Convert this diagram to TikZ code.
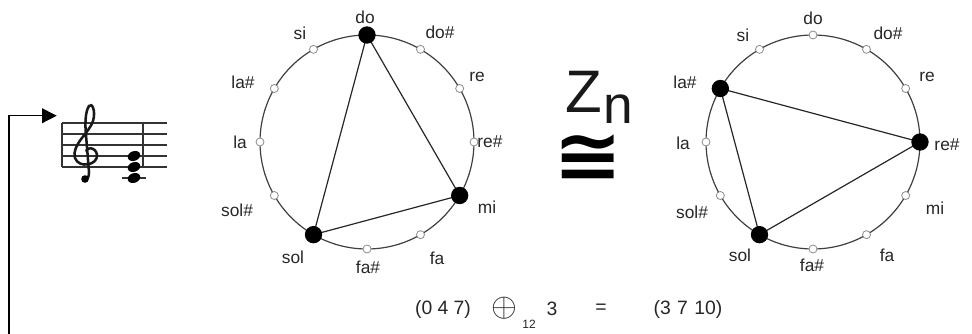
\documentclass[tikz,border=0pt]{standalone}
\usepackage{fontspec}
\usepackage{graphicx}
\setmainfont{Liberation Sans}
\newfontfamily\symfont{DejaVu Sans}
\usetikzlibrary{arrows.meta,calc}
\begin{document}
\begin{tikzpicture}[x=0.75pt,y=-0.75pt,
  lab/.style={font=\fontsize{13}{15}\selectfont, text=black!85, inner sep=0pt},
  pc/.style={circle, draw=black!45, fill=white, line width=0.6pt, minimum size=6pt, inner sep=0pt},
  tone/.style={circle, fill=black, minimum size=13pt, inner sep=0pt},
  ring/.style={circle, draw=black!75, line width=0.9pt, minimum size=160.5pt, inner sep=0pt},
  chord/.style={draw=black!85, line width=0.9pt},
  stafflines/.style={draw=black!80, line width=0.8pt},
  form/.style={font=\fontsize{14.5}{16}\selectfont, text=black!85, inner sep=0pt},
  big/.style={font=\fontsize{45}{45}\selectfont, inner sep=0pt, text=black!90},
  link/.style={draw=black, line width=1.1pt, -{Triangle[length=11pt,width=11pt]}},
]
\useasboundingbox (0,0) rectangle (972,334);

% ---------- score ----------
\node[inner sep=0pt, minimum width=84.75pt, minimum height=52.5pt] (score) at (113.5,151) {};
\foreach \yy in {123,134,145,156,167}
  \draw[stafflines] (62,\yy) -- (167,\yy);
\draw[stafflines] (62,123) -- (62,167);
\draw[stafflines] (143,123) -- (143,167);
% treble clef
\draw[line width=1.9pt, black!90, line cap=round]
  (87,152) .. controls (84,147) and (96,146) .. (97,155)
  .. controls (98,165) and (79,169) .. (75,158)
  .. controls (71,145) and (90,132) .. (93,121)
  .. controls (96,111) and (92,102) .. (89,106)
  .. controls (85,112) and (85,125) .. (86,135)
  -- (89,172)
  .. controls (89,180) and (85,182) .. (83,179);
\fill[black] (85,179) circle[radius=3.8];
% chord C E G
\draw[stafflines] (122,178) -- (146,178);
\foreach \yy in {156,167,178}
  \fill[black, rotate around={20:(134,\yy)}] (134,\yy) ellipse[x radius=6.5, y radius=4.8];

\coordinate (src) at (9,334);
\draw[link] (src) |- (score.north west);

% ---------- left circle ----------
\node[ring] (C1) at (367,142) {};
\foreach \k in {0,...,11}
  \coordinate (L\k) at ($(C1.center)+(30*\k-90:107)$);
\draw[chord] (L0) -- (L4) -- (L7) -- cycle;
\foreach \k in {1,2,3,5,6,8,9,10,11}
  \node[pc] (Lp\k) at (L\k) {};
\foreach \k in {0,4,7}
  \node[tone] (Lt\k) at (L\k) {};
\foreach \dx/\dy/\t in {-2/-125/do, 73/-110/do\#, 110/-65/re, 123/0/re\#, 120/65/mi, 70/116/fa,
   1/125/fa\#, -74/115/sol, -130/68/sol\#, -127/0/la, -124/-60/la\#, -67/-109/si}
  \node[lab] at ($(C1.center)+(\dx,\dy)$) {\t};

% ---------- congruence ----------
\node[big, anchor=base west] (Z) at (565,113) {Z};
\node[big, font=\fontsize{40}{40}\selectfont, anchor=base west] (n) at (603,124) {n};
\node[inner sep=0pt, anchor=south west] (cong) at (553,182)
  {\resizebox*{52pt}{35pt}{\symfont\bfseries ≅}};

% ---------- right circle ----------
\node[ring] (C2) at (813,142) {};
\foreach \k in {0,...,11}
  \coordinate (R\k) at ($(C2.center)+(30*\k-90:107)$);
\draw[chord] (R3) -- (R7) -- (R10) -- cycle;
\foreach \k in {0,1,2,4,5,6,8,9,11}
  \node[pc] (Rp\k) at (R\k) {};
\foreach \k in {3,7,10}
  \node[tone] (Rt\k) at (R\k) {};
\foreach \dx/\dy/\t in {0/-124/do, 75/-109/do\#, 114/-65/re, 134/3/re\#, 122/66/mi, 74/113/fa,
   -1/123/fa\#, -73/113/sol, -121/70/sol\#, -130/1/la, -128/-60/la\#, -70/-107/si}
  \node[lab] at ($(C2.center)+(\dx,\dy)$) {\t};

% ---------- formula ----------
\node[form] (f1) at (443,309) {(0 4 7)};
\node[inner sep=0pt, text=black!85] (f2) at (504,308) {\fontsize{24}{24}\selectfont$\oplus$};
\node[form, font=\fontsize{9}{10}\selectfont] (f3) at (529,324) {12};
\node[form] (f4) at (552,309) {3};
\node[form] (f5) at (601,309) {=};
\node[form] (f6) at (688,309) {(3\,\,7\,\,10)};
\end{tikzpicture}
\end{document}
